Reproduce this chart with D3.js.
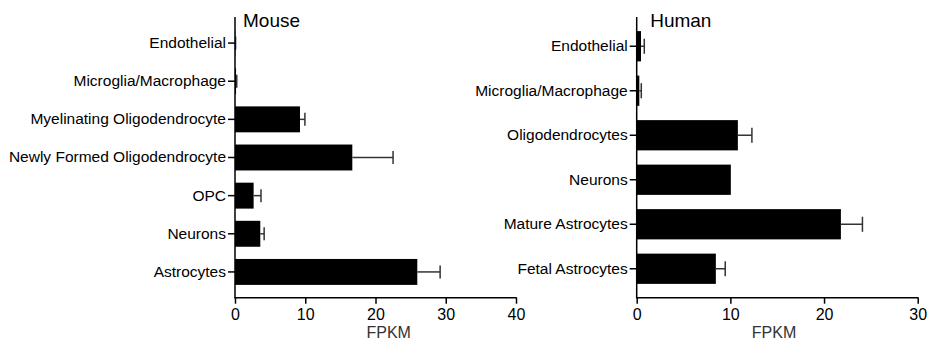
<!DOCTYPE html>
<html>
<head>
<meta charset="utf-8">
<script src="https://cdn.jsdelivr.net/npm/d3@7"></script>
<style>
  body { margin: 0; background: #fff; }
  svg { font-family: Arial, "Liberation Sans", sans-serif; }
</style>
</head>
<body>
<div id="chart"></div>
<script>
// mouse data
const mouseCategories = ["Endothelial", "Microglia/Macrophage", "Myelinating Oligodendrocyte",
    "Newly Formed Oligodendrocyte", "OPC", "Neurons", "Astrocytes"];
const mouseValues = [0.05, 0.15, 9.25, 16.7, 2.65, 3.6, 25.95];
const mouseErrTop = [0.08, 0.25, 9.95, 22.5, 3.7, 4.15, 29.2];
const mouseTicks = [0, 10, 20, 30, 40];

// human data
const humanCategories = ["Endothelial", "Microglia/Macrophage", "Oligodendrocytes",
    "Neurons", "Mature Astrocytes", "Fetal Astrocytes"];
const humanValues = [0.46, 0.28, 10.8, 10.05, 21.8, 8.45];
const humanErrTop = [0.81, 0.49, 12.3, 10.05, 24.1, 9.45];
const humanTicks = [0, 10, 20, 30];

const w = 928;
const h = 340;
const axisTop = 17;
const axisBottom = 297.7;

//Create SVG element
const svg = d3.select("#chart")
    .append("svg")
    .attr("width", w)
    .attr("height", h);

function drawPanel(cfg) {
    const xScale = d3.scaleLinear()
        .domain([0, d3.max(cfg.ticks)])
        .range([cfg.x0, cfg.x1]);
    const yScale = d3.scaleBand()
        .domain(cfg.categories)
        .range([24, 291])
        .paddingInner(0.32)
        .paddingOuter(0.16);

    const g = svg.append("g");

    // bars
    g.selectAll("rect.bar")
        .data(cfg.categories)
        .enter()
        .append("rect")
        .attr("class", "bar")
        .attr("x", xScale(0))
        .attr("y", function (d) { return yScale(d); })
        .attr("width", function (d, i) { return xScale(cfg.values[i]) - xScale(0); })
        .attr("height", yScale.bandwidth())
        .attr("fill", "#000");

    // error bars
    const err = g.selectAll("g.err")
        .data(cfg.categories)
        .enter()
        .append("g")
        .attr("class", "err")
        .filter(function (d, i) { return cfg.errTop[i] > cfg.values[i]; });
    err.append("line")
        .attr("x1", function (d) { return xScale(cfg.values[cfg.categories.indexOf(d)]); })
        .attr("x2", function (d) { return xScale(cfg.errTop[cfg.categories.indexOf(d)]); })
        .attr("y1", function (d) { return yScale(d) + yScale.bandwidth() / 2; })
        .attr("y2", function (d) { return yScale(d) + yScale.bandwidth() / 2; })
        .attr("stroke", "#333")
        .attr("stroke-width", 1.5);
    err.append("line")
        .attr("x1", function (d) { return xScale(cfg.errTop[cfg.categories.indexOf(d)]); })
        .attr("x2", function (d) { return xScale(cfg.errTop[cfg.categories.indexOf(d)]); })
        .attr("y1", function (d) { return yScale(d) + yScale.bandwidth() / 4; })
        .attr("y2", function (d) { return yScale(d) + yScale.bandwidth() * 3 / 4; })
        .attr("stroke", "#333")
        .attr("stroke-width", 1.5);

    // axes
    const xAxis = d3.axisBottom(xScale).tickValues(cfg.ticks).tickSize(6).tickPadding(4.5);
    const yAxis = d3.axisLeft(yScale).tickSize(7).tickPadding(2);

    const gx = g.append("g")
        .attr("transform", "translate(0," + axisBottom + ")")
        .call(xAxis);
    gx.select(".domain").remove();
    gx.selectAll("line").attr("stroke", "#000").attr("stroke-width", 1.5);
    gx.selectAll("text").attr("font-size", "16px").attr("fill", "#000")
        .attr("font-family", "Arial, 'Liberation Sans', sans-serif");

    const gy = g.append("g")
        .attr("transform", "translate(" + xScale(0) + ",0)")
        .call(yAxis);
    gy.select(".domain").remove();
    gy.selectAll("line").attr("stroke", "#000").attr("stroke-width", 1.5);
    gy.selectAll("text").attr("font-size", "15.5px").attr("fill", "#000")
        .attr("font-family", "Arial, 'Liberation Sans', sans-serif");

    // axis lines
    g.append("line")
        .attr("x1", xScale(0)).attr("x2", xScale(0))
        .attr("y1", axisTop).attr("y2", axisBottom)
        .attr("stroke", "#000").attr("stroke-width", 1.5);
    g.append("line")
        .attr("x1", xScale(0) - 0.75).attr("x2", xScale(d3.max(cfg.ticks)) + 0.75)
        .attr("y1", axisBottom).attr("y2", axisBottom)
        .attr("stroke", "#000").attr("stroke-width", 1.5);

    // title
    g.append("text")
        .attr("x", xScale(0) + cfg.titleDx)
        .attr("y", 27)
        .attr("font-size", "19px")
        .attr("fill", "#000")
        .text(cfg.title);

    // x label
    g.append("text")
        .attr("x", cfg.labelX)
        .attr("y", 337.5)
        .attr("font-size", "16px")
        .attr("fill", "#333")
        .style("text-anchor", "middle")
        .text("FPKM");
}

drawPanel({
    categories: mouseCategories, values: mouseValues, errTop: mouseErrTop, ticks: mouseTicks,
    x0: 235, x1: 516, title: "Mouse", titleDx: 8, labelX: 388.7
});
drawPanel({
    categories: humanCategories, values: humanValues, errTop: humanErrTop, ticks: humanTicks,
    x0: 636.7, x1: 917.7, title: "Human", titleDx: 13.5, labelX: 774
});
</script>
</body>
</html>
